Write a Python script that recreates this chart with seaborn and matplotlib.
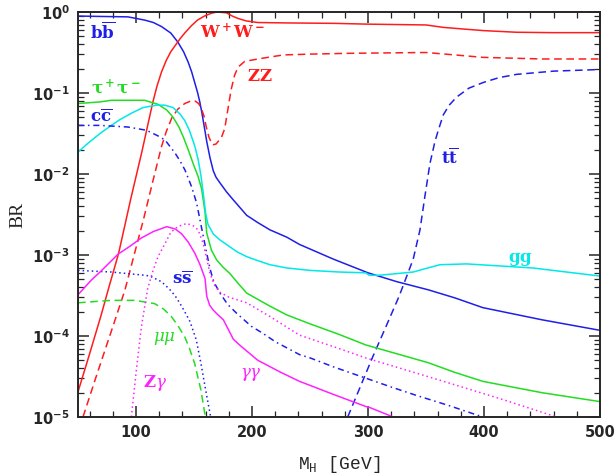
import numpy as np
import pandas as pd
import matplotlib
matplotlib.use('Agg')
import matplotlib.pyplot as plt
import matplotlib.ticker as mticker
import seaborn as sns

# Higgs mass [GeV] and log10(BR)
m_bb = [50, 70, 93, 107.5, 115, 122, 130, 136, 141, 145, 148, 150.6, 153, 155, 157, 159, 161,
        163.8, 166.6, 169, 172.4, 178, 183.9, 195.4, 205, 215.5, 230, 241, 270, 300, 325, 352,
        375, 399, 450, 500]
lg_bb = [-0.05, -0.055, -0.06, -0.10, -0.13, -0.18, -0.26, -0.37, -0.49, -0.62, -0.74, -0.87,
         -0.99, -1.11, -1.26, -1.43, -1.60, -1.80, -1.96, -2.04, -2.11, -2.22, -2.32, -2.51,
         -2.60, -2.69, -2.78, -2.87, -3.05, -3.22, -3.33, -3.43, -3.53, -3.65, -3.80, -3.93]

m_ww = [50, 60, 70, 76, 85, 95.6, 105, 114.4, 118, 122, 126, 130, 134, 138, 142, 147.7, 153,
        159, 165, 170, 178, 183, 188, 195, 205, 230, 270, 300, 350, 365, 382, 400, 428, 460, 500]
lg_ww = [-4.69, -4.22, -3.74, -3.43, -2.98, -2.30, -1.73, -1.12, -0.92, -0.74, -0.60, -0.49,
         -0.41, -0.33, -0.26, -0.17, -0.10, -0.05, -0.015, 0.0, -0.01, -0.05, -0.08, -0.11,
         -0.13, -0.135, -0.14, -0.15, -0.16, -0.19, -0.21, -0.23, -0.25, -0.255, -0.255]

m_zz = [54.3, 65, 75, 82, 90.5, 98, 106.3, 114, 122, 126, 130.8, 136, 142, 147, 151, 154, 156,
        158.5, 160.6, 163, 166, 169, 173.6, 176.5, 179, 182, 185, 188, 193.7, 205, 227, 250,
        284, 350, 375, 399, 450, 500]
lg_zz = [-5.0, -4.53, -4.10, -3.80, -3.43, -3.02, -2.57, -2.12, -1.66, -1.48, -1.31, -1.20,
         -1.13, -1.10, -1.10, -1.13, -1.18, -1.28, -1.42, -1.55, -1.64, -1.63, -1.55, -1.44,
         -1.22, -0.96, -0.78, -0.68, -0.61, -0.58, -0.53, -0.52, -0.51, -0.50, -0.53, -0.56,
         -0.58, -0.58]

m_tt = [282.5, 304, 315, 326.8, 334.5, 339, 344.8, 349, 353.4, 357.7, 360.6, 364.9, 370, 376.4,
        387, 399.4, 413, 428, 460, 500]
lg_tt = [-5.0, -4.26, -3.90, -3.51, -3.22, -3.05, -2.69, -2.28, -1.87, -1.60, -1.46, -1.27,
         -1.15, -1.05, -0.94, -0.87, -0.81, -0.77, -0.73, -0.71]

m_tau = [50, 69, 78.7, 107.5, 112, 119, 126.5, 132, 137, 141, 145, 150, 153.5, 156.5, 159.5,
         161, 165, 169.5, 175, 181, 188, 195.4, 214, 230, 250, 275, 298, 325, 352, 375, 399,
         450, 500]
lg_tau = [-1.13, -1.11, -1.09, -1.09, -1.11, -1.14, -1.21, -1.30, -1.42, -1.55, -1.70, -1.90,
          -2.03, -2.18, -2.47, -2.73, -2.94, -3.06, -3.15, -3.23, -3.35, -3.47, -3.62, -3.74,
          -3.85, -3.98, -4.11, -4.22, -4.33, -4.45, -4.56, -4.70, -4.81]

m_gg = [50, 58.6, 69, 78.7, 86, 96, 106, 117.8, 124.7, 132, 138, 142, 146, 150.8, 153.7, 156,
        158, 160, 162, 166.6, 172, 181, 187, 195.4, 205, 215.5, 230, 250, 275, 298, 301, 310,
        339, 349, 362, 385, 396.5, 442, 500]
lg_gg = [-1.73, -1.62, -1.50, -1.40, -1.33, -1.25, -1.18, -1.15, -1.15, -1.18, -1.26, -1.34,
         -1.46, -1.66, -1.83, -2.02, -2.24, -2.48, -2.62, -2.74, -2.81, -2.90, -2.96, -3.02,
         -3.07, -3.12, -3.16, -3.19, -3.21, -3.22, -3.25, -3.25, -3.21, -3.17, -3.12, -3.11,
         -3.12, -3.16, -3.26]

m_cc = [50, 69, 93, 109, 119, 125, 133.6, 138, 142.2, 148, 152.3, 155.2, 158, 161, 163.8, 167,
        172.4, 179, 186.8, 199.4, 209.7, 220, 241, 250, 270, 298, 320, 341, 370, 399]
lg_cc = [-1.40, -1.40, -1.42, -1.46, -1.53, -1.58, -1.74, -1.84, -1.95, -2.16, -2.36, -2.57,
         -2.77, -2.98, -3.17, -3.33, -3.47, -3.61, -3.72, -3.88, -3.97, -4.07, -4.23, -4.27,
         -4.38, -4.52, -4.63, -4.73, -4.86, -5.0]

m_ss = [50, 78.7, 107.5, 112, 122, 126.5, 130, 134, 138, 142, 146.5, 152, 156, 160.6, 164.4]
lg_ss = [-3.19, -3.21, -3.25, -3.26, -3.33, -3.39, -3.44, -3.51, -3.60, -3.70, -3.82, -4.05,
         -4.34, -4.71, -5.0]

m_mumu = [50, 78.7, 98.9, 116, 124, 130.5, 136, 142, 146, 150.6, 156, 159.8]
lg_mumu = [-3.59, -3.56, -3.56, -3.60, -3.67, -3.76, -3.87, -4.01, -4.15, -4.34, -4.67, -5.0]

m_gaga = [50, 61.5, 69, 84.5, 95, 104.6, 115, 126.5, 134, 139.4, 145, 150.8, 155.2, 159.5, 161,
          163.5, 166.6, 170, 175.3, 180, 183.9, 190, 205, 225, 241, 270, 298, 301, 321.7]
lg_gaga = [-3.49, -3.31, -3.21, -2.99, -2.89, -2.79, -2.71, -2.65, -2.68, -2.74, -2.84, -2.98,
           -3.12, -3.29, -3.51, -3.62, -3.68, -3.73, -3.80, -3.93, -4.04, -4.12, -4.30, -4.45,
           -4.56, -4.72, -4.87, -4.88, -5.0]

m_zga = [96, 100.3, 104.6, 110, 114.7, 119, 123.5, 130, 136, 143.7, 149.4, 153.5, 158, 161,
         163.8, 168, 172.4, 180, 195.4, 215.5, 241, 270, 298, 356, 413, 462.6]
lg_zga = [-5.0, -4.42, -3.89, -3.42, -3.19, -3.02, -2.90, -2.72, -2.65, -2.61, -2.64, -2.69,
          -2.86, -3.05, -3.23, -3.38, -3.46, -3.52, -3.59, -3.76, -3.99, -4.13, -4.27, -4.52,
          -4.77, -5.0]

BLUE = '#1f1fe8'
RED = '#ff1c1c'
GREEN = '#22dd22'
CYAN = '#00e8e8'
MAGENTA = '#ff22ff'

curves = [
    (m_bb, lg_bb, BLUE, '-'),
    (m_ww, lg_ww, RED, '-'),
    (m_zz, lg_zz, RED, (0, (5, 3))),
    (m_tt, lg_tt, BLUE, (0, (5, 3))),
    (m_tau, lg_tau, GREEN, '-'),
    (m_gg, lg_gg, CYAN, '-'),
    (m_cc, lg_cc, BLUE, (0, (4, 2.5, 1, 2.5))),
    (m_ss, lg_ss, BLUE, (0, (1, 2))),
    (m_mumu, lg_mumu, GREEN, (0, (5, 3))),
    (m_gaga, lg_gaga, MAGENTA, '-'),
    (m_zga, lg_zga, MAGENTA, (0, (1, 2))),
]

sns.set_style('ticks')
plt.rcParams.update({'mathtext.fontset': 'dejavuserif',
                     'xtick.direction': 'in', 'ytick.direction': 'in',
                     'xtick.top': True, 'ytick.right': True,
                     'axes.linewidth': 1.4})

fig = plt.figure(figsize=(6.15, 4.74), dpi=100)
ax = fig.add_axes([78 / 615, 57 / 474, 522 / 615, 405 / 474])

for m, lg, col, ls in curves:
    df = pd.DataFrame({'M': m, 'BR': np.power(10.0, lg)})
    sns.lineplot(data=df, x='M', y='BR', ax=ax, color=col, linestyle=ls,
                 linewidth=1.1, sort=False, estimator=None)

ax.set_yscale('log')
ax.set_xlim(50, 500)
ax.set_ylim(1e-5, 1)
ax.xaxis.set_major_locator(mticker.MultipleLocator(100))
ax.xaxis.set_minor_locator(mticker.MultipleLocator(20))
ax.yaxis.set_minor_locator(mticker.LogLocator(base=10, subs=np.arange(2, 10), numticks=20))
ax.yaxis.set_minor_formatter(mticker.NullFormatter())
ax.tick_params(which='major', length=8, width=1.1, labelsize=10.5, pad=6)
ax.tick_params(which='minor', length=4, width=0.9)
for lab in ax.get_xticklabels() + ax.get_yticklabels():
    lab.set_fontweight('bold')

ax.set_xlabel(r'M$_\mathregular{H}$ [GeV]', fontfamily='Liberation Mono', fontsize=13,
              labelpad=10)
ax.set_ylabel('BR', fontfamily='Liberation Serif', fontsize=14, labelpad=4)

lab_kw = dict(fontsize=12, fontweight='bold', fontfamily='DejaVu Serif')
ax.text(60, 10**-0.25, r'$\mathbf{b\overline{b}}$', color=BLUE, va='center', **lab_kw)
ax.text(155, 10**-0.25, r'$\mathbf{W^+W^-}$', color=RED, va='center', **lab_kw)
ax.text(196, 10**-0.80, r'$\mathbf{ZZ}$', color=RED, va='center', **lab_kw)
ax.text(61, 10**-0.94, r'$\mathbf{\tau^+\tau^-}$', color=GREEN, va='center', **lab_kw)
ax.text(60, 10**-1.30, r'$\mathbf{c\overline{c}}$', color=BLUE, va='center', **lab_kw)
ax.text(363, 10**-1.80, r'$\mathbf{t\overline{t}}$', color=BLUE, va='center', **lab_kw)
ax.text(421, 10**-3.05, r'$\mathbf{gg}$', color=CYAN, va='center', **lab_kw)
ax.text(131, 10**-3.30, r'$\mathbf{s\overline{s}}$', color=BLUE, va='center', **lab_kw)
ax.text(115, 10**-4.03, r'$\mu\mu$', color=GREEN, va='center', **lab_kw)
ax.text(106, 10**-4.58, r'$\mathbf{Z}\gamma$', color=MAGENTA, va='center', **lab_kw)
ax.text(190, 10**-4.47, r'$\gamma\gamma$', color=MAGENTA, va='center', **lab_kw)

fig.savefig('out.png', dpi=100)
